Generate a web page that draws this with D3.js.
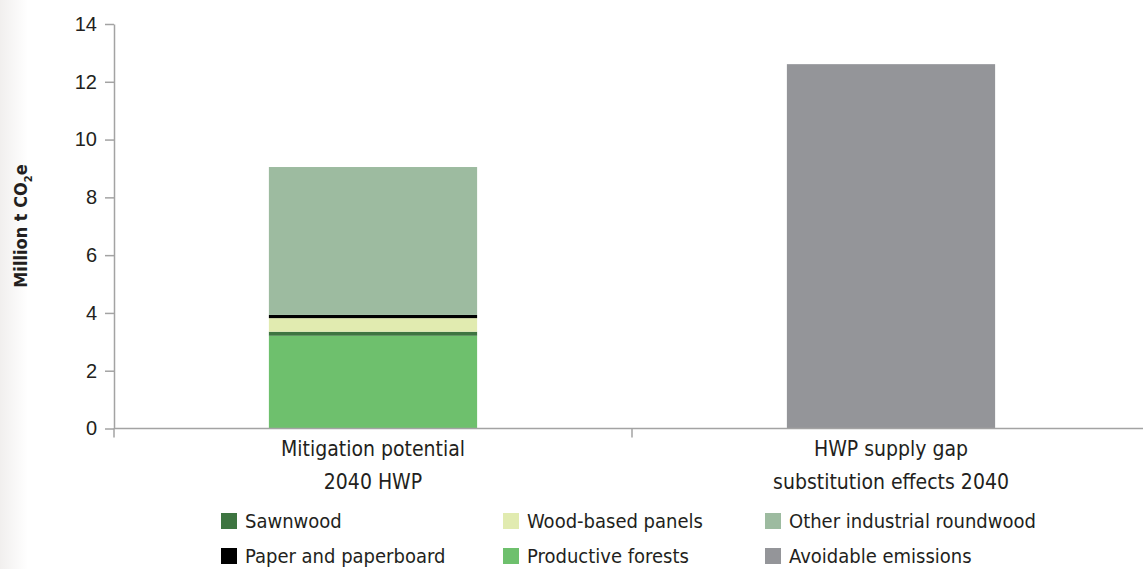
<!DOCTYPE html>
<html>
<head>
<meta charset="utf-8">
<script src="https://cdn.jsdelivr.net/npm/d3@7"></script>
<style>
  body { margin: 0; background: #fff; }
  svg { display: block; font-family: "DejaVu Sans Condensed", "DejaVu Sans", sans-serif; font-stretch: condensed; }
  .axis path, .axis line { stroke: #a3a3a3; stroke-width: 1.5; }
  .axis text { fill: #231f20; font-size: 20px; }
</style>
</head>
<body>
<svg id="chart" width="1143" height="569"></svg>
<script>
"use strict"

// categories on the x axis (one label line per entry)
const categories = ["Mitigation potential 2040 HWP", "HWP supply gap substitution effects 2040"]
const categoryLines = [["Mitigation potential", "2040 HWP"], ["HWP supply gap", "substitution effects 2040"]]

// stacked series, bottom to top, values in million t CO2e
const seriesNames = ["Productive forests", "Sawnwood", "Wood-based panels", "Paper and paperboard", "Other industrial roundwood", "Avoidable emissions"]
const productiveForests = [3.21, 0]
const sawnwood = [0.14, 0]
const woodBasedPanels = [0.47, 0]
const paperAndPaperboard = [0.11, 0]
const otherIndustrialRoundwood = [5.12, 0]
const avoidableEmissions = [0, 12.61]
const seriesColors = ["#6ec06d", "#3e7541", "#e1ebb0", "#000000", "#9dbba0", "#949599"]

// legend reading order (row by row)
const legendOrder = ["Sawnwood", "Wood-based panels", "Other industrial roundwood", "Paper and paperboard", "Productive forests", "Avoidable emissions"]

const yTicks = [0, 2, 4, 6, 8, 10, 12, 14]

const seriesValues = [productiveForests, sawnwood, woodBasedPanels, paperAndPaperboard, otherIndustrialRoundwood, avoidableEmissions]
const table = categories.map((c, i) => {
    const row = {category: c}
    seriesNames.forEach((s, k) => row[s] = seriesValues[k][i])
    return row
})

const svg = d3.select("#chart")
const color = d3.scaleOrdinal().domain(seriesNames).range(seriesColors)

// faint shading on the left edge of the original scan
const defs = svg.append("defs")
const grad = defs.append("linearGradient").attr("id", "edge").attr("x1", 0).attr("x2", 1)
grad.append("stop").attr("offset", 0).attr("stop-color", "#f1efee")
grad.append("stop").attr("offset", 1).attr("stop-color", "#ffffff")
svg.append("rect").attr("x", 0).attr("y", 0).attr("width", 28).attr("height", 569).attr("fill", "url(#edge)")

const margin = {left: 114, right: 1150, top: 24, bottom: 428.5}

const x = d3.scaleBand().domain(categories).range([margin.left, margin.right]).padding(0)
const y = d3.scaleLinear().domain([0, 14]).range([margin.bottom, margin.top])
const barWidth = x.bandwidth() * 0.402

const stacked = d3.stack().keys(seriesNames)(table)

svg.append("g")
    .selectAll("g")
    .data(stacked)
    .join("g")
    .attr("fill", d => color(d.key))
    .selectAll("rect")
    .data(d => d)
    .join("rect")
    .attr("x", d => x(d.data.category) + x.bandwidth() / 2 - barWidth / 2)
    .attr("width", barWidth)
    .attr("y", d => y(d[1]))
    .attr("height", d => y(d[0]) - y(d[1]))

// y axis
const yAxis = d3.axisLeft(y).tickValues(yTicks).tickSize(9).tickPadding(8).tickSizeOuter(0)
svg.append("g")
    .attr("class", "axis")
    .attr("transform", "translate(" + margin.left + ",0)")
    .call(yAxis)

// x axis: ticks at band boundaries, labels centred under bars
const xAxisG = svg.append("g").attr("class", "axis")
xAxisG.append("line")
    .attr("x1", margin.left).attr("x2", margin.right)
    .attr("y1", y(0)).attr("y2", y(0))
const boundaries = [x.range()[0], ...categories.slice(1).map(c => x(c))]
xAxisG.selectAll(".xtick")
    .data(boundaries)
    .join("line")
    .attr("class", "xtick")
    .attr("x1", d => d).attr("x2", d => d)
    .attr("y1", y(0)).attr("y2", y(0) + 9)

svg.append("g")
    .selectAll("text")
    .data(categories)
    .join("text")
    .attr("text-anchor", "middle")
    .attr("font-size", 21)
    .attr("fill", "#231f20")
    .attr("transform", d => "translate(" + (x(d) + x.bandwidth() / 2) + ",456)")
    .each(function(d, i) {
        d3.select(this).selectAll("tspan")
            .data(categoryLines[i])
            .join("tspan")
            .attr("x", 0)
            .attr("dy", (t, k) => k === 0 ? 0 : 33)
            .text(t => t)
    })

// y title
const title = svg.append("text")
    .attr("transform", "translate(27,226) rotate(-90)")
    .attr("text-anchor", "middle")
    .attr("font-size", 18)
    .attr("font-weight", "bold")
    .attr("fill", "#231f20")
title.append("tspan").text("Million t CO")
title.append("tspan").attr("font-size", 11).attr("dy", 5).text("2")
title.append("tspan").attr("dy", -5).text("e")

// legend
const legendCols = [221, 503, 765]
const legendRows = [513, 548]
const legend = svg.append("g")
    .selectAll("g")
    .data(legendOrder)
    .join("g")
    .attr("transform", (d, i) => "translate(" + legendCols[i % 3] + "," + legendRows[Math.floor(i / 3)] + ")")
legend.append("rect")
    .attr("width", 16).attr("height", 16)
    .attr("fill", d => color(d))
legend.append("text")
    .attr("x", 24).attr("y", 15)
    .attr("font-size", 20)
    .attr("fill", "#231f20")
    .text(d => d)
</script>
</body>
</html>
